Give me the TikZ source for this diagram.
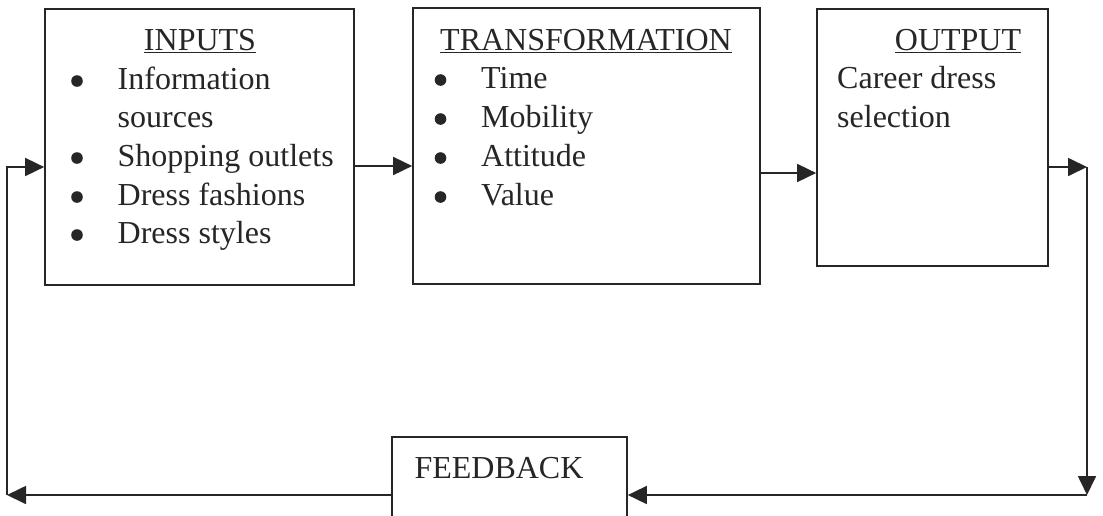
\documentclass[tikz,border=0pt]{standalone}
\usepackage{fontspec}
\setmainfont{Liberation Serif}
\usetikzlibrary{arrows.meta}
\begin{document}
\begin{tikzpicture}[x=1pt,y=-1pt,
  box/.style={draw=black!85, line width=1.7pt, rectangle, inner sep=0pt},
  wire/.style={draw=black!85, line width=1.7pt},
  arr/.style={wire, -{Triangle[length=19pt,width=18pt]}},
  txt/.style={inner sep=0pt, anchor=base west, text=black!85,
              font=\fontsize{32}{38.7}\selectfont},
  title/.style={txt, anchor=base},
]
% canvas
\fill[white] (0,0) rectangle (1103,515);
\useasboundingbox (0,0) rectangle (1103,515);

% the four boxes
\node[box, minimum width=309pt, minimum height=276pt] (inputs) at (199.5,147) {};
\node[box, minimum width=347pt, minimum height=276pt] (trans)  at (586.5,146) {};
\node[box, minimum width=231pt, minimum height=257pt] (out)    at (932.5,137.5) {};
\node[box, minimum width=235pt, minimum height=88pt]  (fb)     at (509.5,481) {};

% INPUTS
\node[title] (inT) at (200,50) {\underline{INPUTS}};
\node[txt] (in1) at (117.5,89)  {Information};
\node[txt] (in2) at (117.5,127) {sources};
\node[txt] (in3) at (117.5,166) {Shopping outlets};
\node[txt] (in4) at (117.5,205) {Dress fashions};
\node[txt] (in5) at (117.5,243) {Dress styles};

% TRANSFORMATION
\node[title] (trT) at (586,50) {\underline{TRANSFORMATION}};
\node[txt] (tr1) at (481,88)  {Time};
\node[txt] (tr2) at (481,127) {Mobility};
\node[txt] (tr3) at (481,166) {Attitude};
\node[txt] (tr4) at (481,205) {Value};

% list bullets
\foreach \n in {in1,in3,in4,in5,tr1,tr2,tr3,tr4}
  \fill[black!85] ([xshift=-40.5pt,yshift=8pt]\n.base west) circle (5.8pt);

% OUTPUT
\node[title] (ouT) at (958,50) {\underline{OUTPUT}};
\node[txt] (ou1) at (837,88)  {Career dress};
\node[txt] (ou2) at (837,127) {selection};

% FEEDBACK
\node[title] (fbT) at (499,478) {FEEDBACK};

% loop corners
\coordinate (c1) at (1087,167);
\coordinate (c2) at (1087,495);
\coordinate (c3) at (7,495);

% forward flow
\draw[arr] ([yshift=-19pt]inputs.east) -- ([yshift=-19pt]inputs.east -| trans.west);
\draw[arr] ([yshift=-27pt]trans.east) -- ([yshift=-27pt]trans.east -| out.west);
\draw[arr] ([yshift=-29.5pt]out.east) -- (c1);

% feedback loop
\draw[arr] (c1) -- (c2);
\draw[arr] (c2) -- (fb.east |- c2);
\draw[arr] (fb.west |- c2) -- (c3);
\draw[arr] (c3) |- ([yshift=-20pt]inputs.west);
\end{tikzpicture}
\end{document}
